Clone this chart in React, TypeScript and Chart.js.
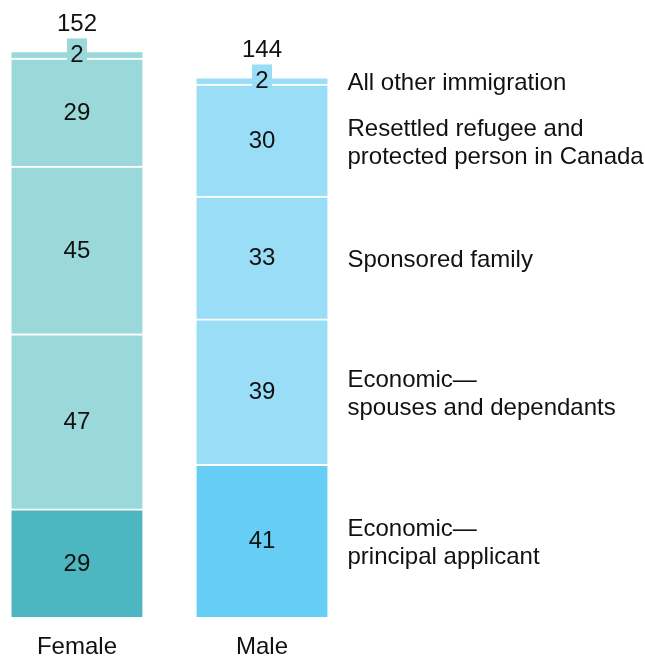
import React, { useEffect, useRef } from "react";
import { Chart, registerables } from "chart.js";

Chart.register(...registerables);

const categories = ["Female", "Male"];
const principalApplicant = [29, 41];
const spousesDependants = [47, 39];
const sponsoredFamily = [45, 33];
const refugeeProtected = [29, 30];
const allOther = [2, 2];
const totals = [152, 144];

const seriesLabels: string[][] = [
  ["Economic—", "principal applicant"],
  ["Economic—", "spouses and dependants"],
  ["Sponsored family"],
  ["Resettled refugee and", "protected person in Canada"],
  ["All other immigration"],
];

const FEMALE_LIGHT = "#9bd8da";
const FEMALE_DARK = "#4db7c1";
const MALE_LIGHT = "#99ddf6";
const MALE_DARK = "#66cef4";
const FONT = "24px 'Liberation Sans', Arial, sans-serif";
const TEXT = "#111111";

export default function App() {
  const ref = useRef<HTMLCanvasElement | null>(null);

  useEffect(() => {
    if (!ref.current) return;
    const series = [principalApplicant, spousesDependants, sponsoredFamily, refugeeProtected, allOther];
    const datasets = series.map((vals, si) => ({
      label: seriesLabels[si].join(" "),
      data: vals.map((v, i) => ({ x: i, y: v })),
      backgroundColor: si === 0 ? [FEMALE_DARK, MALE_DARK] : [FEMALE_LIGHT, MALE_LIGHT],
      borderColor: "#ffffff",
      borderWidth: { top: 2, left: 0, right: 0, bottom: 0 },
      borderSkipped: false as const,
      barThickness: 131,
    }));

    const labelPlugin = {
      id: "labels",
      afterDatasetsDraw(chart: any) {
        const ctx = chart.ctx;
        ctx.save();
        ctx.font = FONT;
        ctx.fillStyle = TEXT;
        ctx.textBaseline = "middle";
        const n = chart.data.datasets.length;
        for (let di = 0; di < n; di++) {
          const meta = chart.getDatasetMeta(di);
          meta.data.forEach((el: any, i: number) => {
            const cy = (el.y + el.base) / 2;
            const val = series[di][i];
            if (di === n - 1) {
              const bg = i === 0 ? FEMALE_LIGHT : MALE_LIGHT;
              ctx.fillStyle = bg;
              ctx.fillRect(el.x - 10, cy - 16, 20, 25);
              ctx.fillStyle = TEXT;
            }
            ctx.textAlign = "center";
            ctx.fillText(String(val), el.x, cy + 1);
            if (di === n - 1) {
              ctx.fillText(String(totals[i]), el.x, el.y - 26);
            }
            if (di === 0) {
              ctx.fillText(categories[i], el.x, chart.chartArea.bottom + 30);
            }
            if (i === categories.length - 1) {
              const lines = seriesLabels[di];
              const lh = 28;
              const x0 = el.x + el.width / 2 + 20;
              ctx.textAlign = "left";
              lines.forEach((ln, k) => {
                const y = cy + 3 + (k - (lines.length - 1) / 2) * lh;
                ctx.fillText(ln, x0, y);
              });
            }
          });
        }
        ctx.restore();
      },
    };

    const chart = new Chart(ref.current, {
      type: "bar",
      data: { datasets } as any,
      options: {
        animation: false,
        responsive: false,
        layout: { padding: { top: 0, left: 0, right: 0, bottom: 40 } },
        plugins: { legend: { display: false }, tooltip: { enabled: false } },
        scales: {
          x: {
            type: "linear",
            stacked: true,
            offset: false,
            min: -0.416,
            max: 3.07,
            display: false,
          },
          y: {
            stacked: true,
            min: 0,
            max: 165.6,
            display: false,
          },
        },
      },
      plugins: [labelPlugin],
    });
    return () => chart.destroy();
  }, []);

  return (
    <div style={{ position: "absolute", left: 0, top: 0, width: 645, height: 657 }}>
      <canvas ref={ref} width={645} height={657} style={{ display: "block" }} />
    </div>
  );
}
